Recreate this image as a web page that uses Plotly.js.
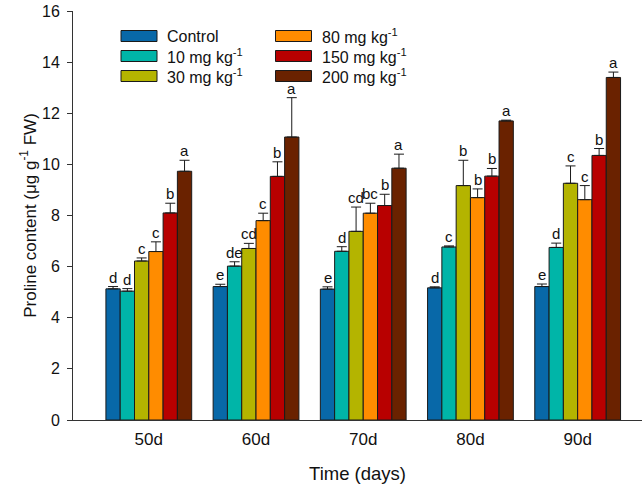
<!DOCTYPE html>
<html lang="en">
<head>
<meta charset="UTF-8">
<title>Proline content</title>
<script src="https://cdn.plot.ly/plotly-3.0.1.min.js"></script>
<style>
  html, body { margin: 0; padding: 0; background: #fff; }
  #plot { width: 644px; height: 487px; }
</style>
</head>
<body>
<div id="plot"></div>
<script>
// data
const days = ['50d', '60d', '70d', '80d', '90d'];
const names = ['Control', '10 mg kg<sup>-1</sup>', '30 mg kg<sup>-1</sup>',
               '80 mg kg<sup>-1</sup>', '150 mg kg<sup>-1</sup>', '200 mg kg<sup>-1</sup>'];
const colors = ['#0868a8', '#00b5a8', '#b4b400', '#ff8c00', '#b80000', '#6a2200'];

const control = [5.13, 5.22, 5.12, 5.17, 5.22];
const mg10    = [5.04, 6.02, 6.60, 6.77, 6.75];
const mg30    = [6.22, 6.71, 7.38, 9.17, 9.26];
const mg80    = [6.59, 7.80, 8.09, 8.70, 8.62];
const mg150   = [8.10, 9.53, 8.39, 9.54, 10.35];
const mg200   = [9.73, 11.07, 9.85, 11.70, 13.40];

const errControl = [0.09, 0.09, 0.09, 0.04, 0.10];
const err10      = [0.10, 0.17, 0.18, 0.04, 0.17];
const err30      = [0.12, 0.20, 0.95, 0.99, 0.68];
const err80      = [0.38, 0.29, 0.39, 0.34, 0.55];
const err150     = [0.38, 0.57, 0.44, 0.30, 0.27];
const err200     = [0.43, 1.54, 0.55, 0.03, 0.21];

const letControl = ['d', 'e', 'e', 'd', 'e'];
const let10      = ['d', 'de', 'd', 'c', 'd'];
const let30      = ['c', 'cd', 'cd', 'b', 'c'];
const let80      = ['c', 'c', 'bc', 'b', 'c'];
const let150     = ['b', 'b', 'b', 'b', 'b'];
const let200     = ['a', 'a', 'a', 'a', 'a'];

const series = [control, mg10, mg30, mg80, mg150, mg200];
const errors = [errControl, err10, err30, err80, err150, err200];
const letters = [letControl, let10, let30, let80, let150, let200];

// layout geometry (pixels)
const W = 644, H = 487;
const mL = 73, mR = 2, mT = 11, mB = 67;
const plotW = W - mL - mR, plotH = H - mT - mB;
const px = x => (x - mL) / plotW;
const py = y => (H - mB - y) / plotH;

const bargap = 0.2;
const barW = (1 - bargap) / series.length;
const xIdx = days.map((d, i) => i);
const font = 'Liberation Sans, Arial, sans-serif';

const traces = series.map((vals, j) => ({
  type: 'bar',
  name: names[j],
  x: xIdx,
  y: vals,
  marker: { color: colors[j], line: { color: '#1a1a1a', width: 1 } },
  error_y: {
    type: 'data', symmetric: false,
    array: errors[j], arrayminus: vals.map(() => 0),
    color: '#1a1a1a', thickness: 1, width: 5
  },
  showlegend: false
}));

const annotations = [];
series.forEach((vals, j) => {
  vals.forEach((v, i) => {
    annotations.push({
      x: i + (j - (series.length - 1) / 2) * barW,
      y: v + errors[j][i],
      xref: 'x', yref: 'y',
      text: letters[j][i],
      showarrow: false,
      yanchor: 'bottom',
      yshift: -1,
      font: { family: font, size: 15, color: '#111' }
    });
  });
});

// legend drawn as two columns of wide swatches
const shapes = [];
const legCols = [121, 275.5];
const legRows = [36, 56, 76];
names.forEach((n, j) => {
  const col = Math.floor(j / 3), row = j % 3;
  const x0 = legCols[col], yc = legRows[row];
  shapes.push({
    type: 'rect', xref: 'paper', yref: 'paper',
    x0: px(x0), x1: px(x0 + 36), y0: py(yc + 5.5), y1: py(yc - 5.5),
    fillcolor: colors[j], line: { color: '#1a1a1a', width: 1 }
  });
  annotations.push({
    xref: 'paper', yref: 'paper',
    x: px(x0 + 44), y: py(yc),
    xanchor: 'left', yanchor: 'middle',
    text: n, showarrow: false,
    font: { family: font, size: 16, color: '#111' }
  });
});

const layout = {
  width: W, height: H,
  margin: { l: mL, r: mR, t: mT, b: mB },
  paper_bgcolor: '#fff', plot_bgcolor: '#fff',
  barmode: 'group', bargap: bargap, bargroupgap: 0,
  font: { family: font, size: 16, color: '#111' },
  xaxis: {
    range: [-0.707, 4.6],
    tickvals: xIdx, ticktext: days,
    showline: true, linecolor: '#333', linewidth: 1,
    ticks: '', showgrid: false, zeroline: false,
    tickfont: { size: 17 }, ticklabelstandoff: 4,
    title: { text: 'Time (days)', font: { size: 18.5 }, standoff: 18 }
  },
  yaxis: {
    range: [0, 16], dtick: 2,
    showline: true, linecolor: '#333', linewidth: 1,
    ticks: 'outside', ticklen: 5, tickcolor: '#333',
    showgrid: false, zeroline: false,
    tickfont: { size: 16 }, ticklabelstandoff: 4,
    title: { text: 'Proline content (μg g<sup>-1</sup> FW)', font: { size: 17 }, standoff: 1 }
  },
  shapes: shapes,
  annotations: annotations,
  showlegend: false
};

Plotly.newPlot('plot', traces, layout, { displayModeBar: false, staticPlot: true });
</script>
</body>
</html>
